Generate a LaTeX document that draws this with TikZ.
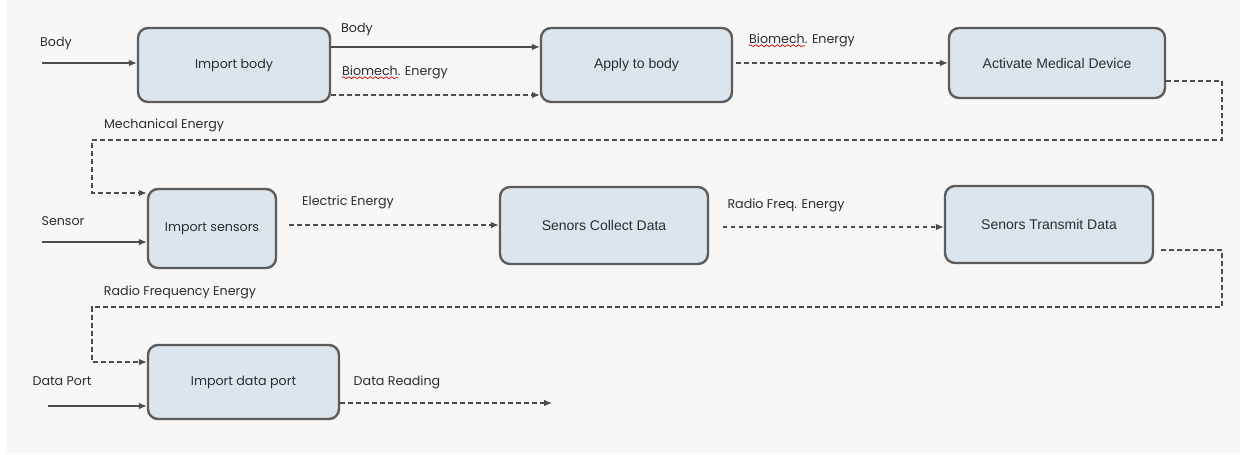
\documentclass[tikz,border=0pt]{standalone}
\usepackage{fontspec}
\setmainfont{Poppins}
\newfontfamily\arialfont{Liberation Sans}
\usetikzlibrary{arrows.meta,decorations.pathmorphing}

\definecolor{pagegray}{HTML}{F7F7F7}
\definecolor{boxfill}{HTML}{DCE5EC}
\definecolor{boxline}{HTML}{5C5C5C}
\definecolor{wireline}{HTML}{4A4D50}
\definecolor{inkdark}{HTML}{2A2D31}

\begin{document}
\begin{tikzpicture}[x=0.75pt,y=-0.75pt]
                \tikzset{every node/.style={font=\fontsize{9.5}{11}\selectfont,text=inkdark},
                    block/.style={draw=boxline,fill=boxfill,line width=1.8pt,rounded corners=7.5pt,
                        inner sep=0pt,align=center},
                    narrowtext/.style={font=\arialfont\fontsize{10.5}{12}\selectfont},
                    flow/.style={draw=wireline,line width=0.9pt,-{Latex[length=6pt,width=5pt]}},
                    dflow/.style={flow,dash pattern=on 3.5pt off 2.5pt},
                    tag/.style={inner sep=0pt,anchor=base},
                    spell/.style={draw=red!80!black,line width=0.5pt,
                        decorate,decoration={snake,amplitude=0.7pt,segment length=4pt}}}
                % page
                \fill[white] (0,0) rectangle (1244,454);
                \fill[pagegray] (7,0) rectangle (1240,454);
                % first row
                \node[block,minimum width=144pt,minimum height=55.5pt] (ib) at (234,65) {Import body};
                \node[block,narrowtext,minimum width=143.25pt,minimum height=55.5pt] (ab) at (636.5,65) {Apply to body};
                \node[block,narrowtext,minimum width=162pt,minimum height=52.5pt] (amd) at (1057,63) {Activate Medical Device};
                % second row
                \node[block,minimum width=96pt,minimum height=59.25pt] (is) at (212,228.5) {Import sensors};
                \node[block,narrowtext,minimum width=156pt,minimum height=57.75pt] (scd) at (604,225.5) {Senors Collect Data};
                \node[block,narrowtext,minimum width=156pt,minimum height=57.75pt] (std) at (1049,224.5) {Senors Transmit Data};
                % third row
                \node[block,minimum width=143.25pt,minimum height=55.5pt] (idp) at (243.5,382) {Import data port};
                % free ends
                \coordinate (inbody) at (42,63);
                \coordinate (insensor) at (42,242);
                \coordinate (inport) at (48,406);
                \coordinate (outread) at (552,403);
                % labels
                \node[tag] (lbody) at (56,46) {Body};
                \node[tag] (lbody2) at (357,32) {Body};
                \node[tag] (lbio) at (395,75) {Biomech. Energy};
                \node[tag] (lbio2) at (802,43) {Biomech. Energy};
                \node[tag] (lmech) at (164,128) {Mechanical Energy};
                \node[tag] (lsensor) at (63,225) {Sensor};
                \node[tag] (lelec) at (348,205) {Electric Energy};
                \node[tag] (lrf) at (786,208) {Radio Freq. Energy};
                \node[tag] (lrf2) at (180,295) {Radio Frequency Energy};
                \node[tag] (lport) at (62,385) {Data Port};
                \node[tag] (lread) at (397,385) {Data Reading};
                % spell check marks
                \draw[spell] ([yshift=-2pt]lbio.base west) -- ++(42pt,0);
                \draw[spell] ([yshift=-2pt]lbio2.base west) -- ++(42pt,0);
                % connections
                \draw[flow] (inbody) -- (ib.west |- inbody);
                \draw[flow] (ib.east |- 0,47) -- (ab.west |- 0,47);
                \draw[dflow] (ib.east |- 0,95) -- (ab.west |- 0,95);
                \draw[dflow,shorten <=2pt] (ab.east |- 0,63) -- (amd.west |- 0,63);
                \draw[dflow] (amd.east |- 0,81) -| (1222,140) -| (92,193) -- (is.west |- 0,193);
                \draw[flow] (insensor) -- (is.west |- insensor);
                \draw[dflow,shorten <=9pt] (is.east |- 0,225) -- (scd.west |- 0,225);
                \draw[dflow,shorten <=10pt] (scd.east |- 0,227) -- (std.west |- 0,227);
                \draw[dflow,shorten <=5pt] (std.east |- 0,250) -| (1222,307) -| (92,362) -- (idp.west |- 0,362);
                \draw[flow] (inport) -- (idp.west |- inport);
                \draw[dflow] (idp.east |- outread) -- (outread);
            \end{tikzpicture}
\end{document}
